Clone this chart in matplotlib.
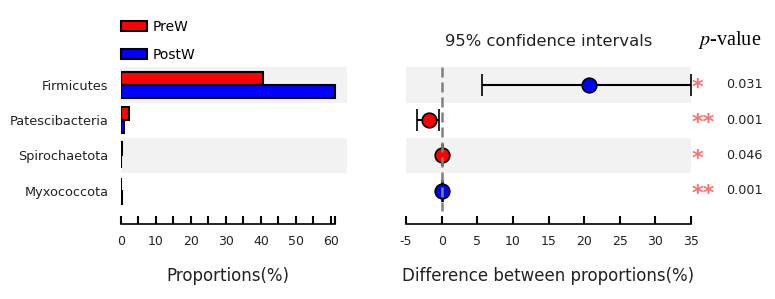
import numpy as np
import matplotlib.pyplot as plt
from matplotlib.patches import Patch

plt.rcParams["axes.unicode_minus"] = False

taxa = ["Firmicutes", "Patescibacteria", "Spirochaetota", "Myxococcota"]
prew = [40.6, 2.2, 0.3, 0.1]
postw = [61.1, 0.8, 0.1, 0.3]
diff = [20.7, -1.8, 0.1, 0.1]
ci_low = [5.6, -3.4, 0.0, 0.0]
ci_high = [35.0, -0.4, 0.2, 0.2]
pvals = ["0.031", "0.001", "0.046", "0.001"]
stars = ["*", "**", "*", "**"]
groups = ["PreW", "PostW"]
colors = ["#ff0000", "#0000ff"]
pt_colors = ["#0000ff", "#ff0000", "#ff0000", "#0000ff"]

W, H = 775, 299
fig = plt.figure(figsize=(W / 100, H / 100), dpi=100)

def box(x0, x1, y0, y1):
    return [x0 / W, 1 - y1 / H, (x1 - x0) / W, (y1 - y0) / H]

ytop, ybot = -0.71, 3.95
y = np.arange(len(taxa))
bh = 0.37
txt = "#222222"

# left: proportions
ax1 = fig.add_axes(box(121, 347, 60, 224))
for i in range(len(taxa)):
    if i % 2 == 0:
        ax1.axhspan(i - 0.5, i + 0.5, color="#f2f2f2", zorder=0, lw=0)
ax1.barh(y - bh / 2, prew, height=bh, color=colors[0], edgecolor="black", lw=1.5, label=groups[0])
ax1.barh(y + bh / 2, postw, height=bh, color=colors[1], edgecolor="black", lw=1.5, label=groups[1])
ax1.set_xlim(0, 64.6)
ax1.set_ylim(ybot, ytop)
ax1.set_yticks(y)
ax1.set_yticklabels(taxa, fontsize=9.3, color=txt)
ax1.tick_params(axis="y", length=0, pad=9)
ax1.set_xticks(np.arange(0, 61, 5))
ax1.set_xticklabels([str(v) if v % 10 == 0 else "" for v in range(0, 61, 5)])
ax1.set_xticks([61.3], minor=True)
ax1.tick_params(axis="x", which="both", direction="in", length=6, width=1.5, labelsize=9, pad=8, labelcolor=txt)
for s in ["top", "right", "left"]:
    ax1.spines[s].set_visible(False)
ax1.spines["bottom"].set_bounds(0, 61.3)
ax1.spines["bottom"].set_linewidth(1.2)
ax1.set_xlabel("Proportions(%)", fontsize=12, color=txt)
ax1.xaxis.set_label_coords(0.473, -0.265)
handles = [Patch(facecolor=c, edgecolor="black", lw=1.5) for c in colors]
ax1.legend(handles, groups, loc="upper left", bbox_to_anchor=(0.0, 1 + 40 / 164), frameon=False,
           fontsize=10, handlelength=1.9, handleheight=0.65, labelspacing=1.0, borderpad=0, borderaxespad=0,
           handletextpad=0.4)

# right: differences with CI
ax2 = fig.add_axes(box(406, 691, 60, 224))
for i in range(len(taxa)):
    if i % 2 == 0:
        ax2.axhspan(i - 0.5, i + 0.5, color="#f2f2f2", zorder=0, lw=0)
lo = np.array(diff) - np.array(ci_low)
hi = np.array(ci_high) - np.array(diff)
for i in range(len(taxa)):
    ax2.errorbar(diff[i], i, xerr=[[lo[i]], [hi[i]]], fmt="o", color="black", ecolor="black",
                 elinewidth=1.5, capsize=8, capthick=1.5, markersize=10.5, markerfacecolor=pt_colors[i],
                 markeredgecolor="black", markeredgewidth=1.2, zorder=3)
ax2.vlines(0, -0.5, 3.57, color="gray", ls=(0, (4, 2)), lw=1.8, zorder=4)
ax2.set_xlim(-5, 35)
ax2.set_ylim(ybot, ytop)
ax2.set_yticks([])
ax2.set_xticks(np.arange(-5, 36, 5))
ax2.tick_params(axis="x", direction="in", length=6, width=1.5, labelsize=9, pad=8, labelcolor=txt)
for s in ["top", "right", "left"]:
    ax2.spines[s].set_visible(False)
ax2.spines["bottom"].set_linewidth(1.2)
ax2.set_xlabel("Difference between proportions(%)", fontsize=12, color=txt)
ax2.xaxis.set_label_coords(0.5, -0.265)
ax2.set_title("95% confidence intervals", fontsize=11.8, color=txt, pad=10)

for i in range(len(taxa)):
    ax2.text(1.003, i + 0.09, stars[i], transform=ax2.get_yaxis_transform(), color="#ff7070",
             fontsize=16, fontweight="bold", va="center", ha="left")
    ax2.text(1.123, i, pvals[i], transform=ax2.get_yaxis_transform(), color=txt,
             fontsize=9.2, va="center", ha="left")
fig.text(730 / W, 1 - 40 / H, "$p$-value", fontsize=14.5, ha="center", va="center",
         family="Liberation Serif", math_fontfamily="stix")

fig.savefig("out.png", dpi=100)
